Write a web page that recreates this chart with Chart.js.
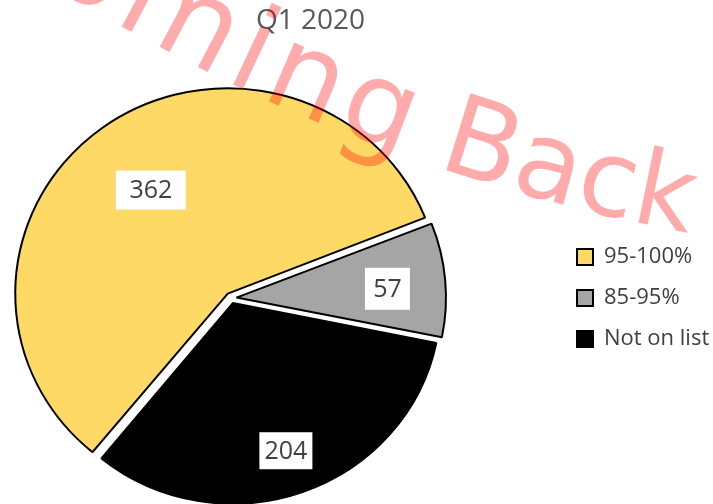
<!DOCTYPE html>
<html>
<head>
<meta charset="utf-8">
<script src="https://cdn.jsdelivr.net/npm/chart.js@4.4.1/dist/chart.umd.min.js"></script>
<style>
html, body { margin: 0; padding: 0; background: #ffffff; }
#wrap { width: 713px; height: 504px; position: relative; }
</style>
</head>
<body>
<div id="wrap"><canvas id="c" width="713" height="504"></canvas></div>
<script>
// ---- data ----
const categories = ['95-100%', '85-95%', 'Not on list'];
const counts = [362, 57, 204];
const titleText = 'Q1 2020';
const watermarkText = 'Coming Back';

// ---- styling ----
const sliceColors = ['#FFD966', '#A5A5A5', '#000000'];
const labelRadiusFraction = [0.62, 0.72, 0.76];
const labelBoxSize = [[70, 39], [45, 42], [53, 37]];
const labelNudge = [[-1, -3], [2, 4], [0, 4]];
const textGray = '#595959';
const pieSquash = 0.967;

const layoutFix = {
  id: 'layoutFix',
  afterLayout(chart) {
    const ca = chart.chartArea;
    ca.left = 1; ca.right = 461; ca.top = 92; ca.bottom = 504;
    ca.width = ca.right - ca.left; ca.height = ca.bottom - ca.top;
    const t = chart.titleBlock;
    if (t) { t.left = 0; t.right = 621; t.width = 621; }
    const lg = chart.legend;
    if (lg) { lg.left = 558; lg.right = 713; lg.width = 155; lg.top = 100; lg.bottom = 496; lg.height = 396; }
  }
};

const squash = {
  id: 'squash',
  beforeDatasetsDraw(chart) {
    const ca = chart.chartArea;
    const cy = (ca.top + ca.bottom) / 2;
    const ctx = chart.ctx;
    ctx.save();
    ctx.translate(0, cy);
    ctx.scale(1, pieSquash);
    ctx.translate(0, -cy);
  },
  afterDatasetsDraw(chart) {
    chart.ctx.restore();
  }
};

const valueLabels = {
  id: 'valueLabels',
  afterDatasetsDraw(chart) {
    const ctx = chart.ctx;
    const meta = chart.getDatasetMeta(0);
    const ca = chart.chartArea;
    const cyc = (ca.top + ca.bottom) / 2;
    ctx.save();
    ctx.font = '25px "Open Sans"';
    ctx.textAlign = 'center';
    ctx.textBaseline = 'middle';
    meta.data.forEach((arc, i) => {
      const p = arc.getProps(['x', 'y', 'startAngle', 'endAngle', 'outerRadius'], true);
      const mid = (p.startAngle + p.endAngle) / 2;
      const r = labelRadiusFraction[i] * p.outerRadius + 6;
      const cx = p.x + Math.cos(mid) * r + labelNudge[i][0];
      const cy = cyc + (p.y + Math.sin(mid) * r - cyc) * pieSquash + labelNudge[i][1];
      const [bw, bh] = labelBoxSize[i];
      ctx.fillStyle = '#ffffff';
      ctx.fillRect(cx - bw / 2, cy - bh / 2, bw, bh);
      ctx.fillStyle = '#404040';
      ctx.fillText(String(counts[i]), cx, cy + 1);
    });
    ctx.restore();
  }
};

const watermark = {
  id: 'watermark',
  afterDraw(chart) {
    const ctx = chart.ctx;
    const sizeStart = 126, sizeEnd = 104;
    const tracking = 7, trackedCount = 5;
    ctx.save();
    ctx.fillStyle = 'rgba(255, 0, 0, 0.33)';
    ctx.textBaseline = 'alphabetic';
    const chars = Array.from(watermarkText);
    const n = chars.length;
    const bIdx = chars.indexOf('B');
    const sizes = chars.map((c, i) => sizeStart + (sizeEnd - sizeStart) * i / (n - 1));
    const widths = chars.map((c, i) => {
      ctx.font = sizes[i] + 'px "DejaVu Sans"';
      return ctx.measureText(c).width + (i < trackedCount ? tracking : 0);
    });
    let sB = 0;
    for (let i = 0; i < bIdx; i++) sB += widths[i];
    const thB = 18.5, slopeBefore = 0.032, slopeAfter = 0.0296;
    const angleAt = (s) => {
      const d = s - sB;
      return (d < 0 ? thB - slopeBefore * d : thB - slopeAfter * d) * Math.PI / 180;
    };
    let x = 0, y = 0, s = 0;
    const placed = [];
    chars.forEach((c, i) => {
      const w = widths[i];
      const th = angleAt(s + w / 2);
      placed.push({ c, x, y, th, size: sizes[i] });
      x += w * Math.cos(th); y += w * Math.sin(th); s += w;
    });
    const dx = 436 - placed[bIdx].x, dy = 167 - placed[bIdx].y;
    placed.forEach(p => {
      ctx.save();
      ctx.font = p.size + 'px "DejaVu Sans"';
      ctx.translate(p.x + dx, p.y + dy);
      ctx.rotate(p.th);
      ctx.fillText(p.c, 0, 0);
      ctx.restore();
    });
    ctx.restore();
  }
};

new Chart(document.getElementById('c'), {
  type: 'pie',
  data: {
    labels: categories,
    datasets: [{
      data: counts,
      backgroundColor: sliceColors,
      borderColor: '#000000',
      borderWidth: 2,
      offset: 22,
      clip: false
    }]
  },
  options: {
    responsive: false,
    animation: false,
    rotation: 219.3,
    radius: 207,
    plugins: {
      title: {
        display: true,
        text: titleText,
        color: textGray,
        font: { family: '"Open Sans"', size: 28, weight: 'normal' },
        padding: { top: 4, bottom: 4 }
      },
      legend: {
        display: true,
        position: 'right',
        align: 'center',
        labels: {
          color: '#404040',
          font: { family: '"Open Sans"', size: 22 },
          boxWidth: 16,
          boxHeight: 16,
          padding: 19
        }
      },
      tooltip: { enabled: false }
    }
  },
  plugins: [layoutFix, squash, valueLabels, watermark]
});
</script>
</body>
</html>
